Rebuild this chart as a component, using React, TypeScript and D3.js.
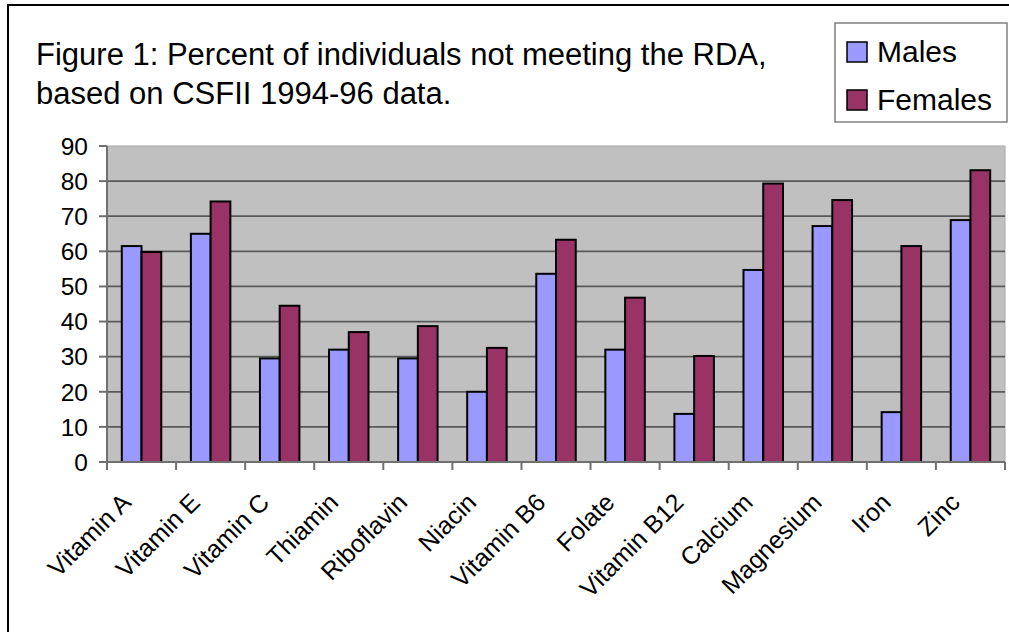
import * as d3 from "d3";

const categories = [
  "Vitamin A", "Vitamin E", "Vitamin C", "Thiamin", "Riboflavin", "Niacin",
  "Vitamin B6", "Folate", "Vitamin B12", "Calcium", "Magnesium", "Iron", "Zinc",
];
const males = [61.5, 65, 29.5, 32, 29.5, 20, 53.6, 32, 13.7, 54.7, 67.2, 14.2, 68.9];
const females = [59.8, 74.2, 44.5, 37, 38.7, 32.5, 63.3, 46.8, 30.2, 79.3, 74.6, 61.5, 83.1];
const seriesNames = ["Males", "Females"];
const seriesColors = ["#9999FF", "#993366"];
const yTicks = [0, 10, 20, 30, 40, 50, 60, 70, 80, 90];
const titleLines = [
  "Figure 1: Percent of individuals not meeting the RDA,",
  "based on CSFII 1994-96 data.",
];

export default function App() {
  const width = 1009;
  const height = 632;
  const plot = { left: 107, right: 1005, top: 146, bottom: 462 };
  const font = "'Liberation Sans', Arial, sans-serif";

  const x = d3.scaleBand().domain(categories).range([plot.left, plot.right]).padding(0);
  const xs = d3
    .scaleBand()
    .domain(seriesNames)
    .range([0, x.bandwidth()])
    .paddingInner(0)
    .paddingOuter(0.75);
  const y = d3.scaleLinear().domain([0, 90]).range([plot.bottom, plot.top]);

  const values = [males, females];

  return (
    <svg
      width={width}
      height={height}
      style={{ position: "absolute", left: 0, top: 0, background: "#fff" }}
      fontFamily={font}
    >
      <rect x={8} y={5} width={1100} height={700} fill="#fff" stroke="#000" strokeWidth={2} />

      {titleLines.map((t, i) => (
        <text key={t} x={36} y={65 + i * 39} fontSize={31} fill="#000">
          {t}
        </text>
      ))}

      {/* legend */}
      <rect x={835} y={23} width={172} height={99} fill="#fff" stroke="#808080" strokeWidth={1.5} />
      {seriesNames.map((s, i) => (
        <g key={s} transform={`translate(847, ${42 + i * 48})`}>
          <rect width={20} height={20} fill={seriesColors[i]} stroke="#000" strokeWidth={1.5} />
          <text x={30} y={19.5} fontSize={30} fill="#000">
            {s}
          </text>
        </g>
      ))}

      {/* plot area */}
      <rect
        x={plot.left}
        y={plot.top}
        width={plot.right - plot.left}
        height={plot.bottom - plot.top}
        fill="#c0c0c0"
        stroke="#a8a8a8"
        strokeWidth={1}
      />
      {yTicks
        .filter((t) => t > 0 && t < 90)
        .map((t) => (
          <line
            key={t}
            x1={plot.left}
            x2={plot.right}
            y1={y(t)}
            y2={y(t)}
            stroke="#5a5a5a"
            strokeWidth={1.8}
          />
        ))}

      {/* bars */}
      {categories.map((c, ci) =>
        seriesNames.map((s, si) => (
          <rect
            key={c + s}
            x={(x(c) ?? 0) + (xs(s) ?? 0)}
            y={y(values[si][ci])}
            width={xs.bandwidth()}
            height={y(0) - y(values[si][ci])}
            fill={seriesColors[si]}
            stroke="#000"
            strokeWidth={2}
          />
        ))
      )}

      {/* y axis */}
      <line x1={plot.left} x2={plot.left} y1={plot.top} y2={plot.bottom} stroke="#707070" strokeWidth={2} />
      {yTicks.map((t) => (
        <g key={t}>
          <line x1={plot.left - 8} x2={plot.left} y1={y(t)} y2={y(t)} stroke="#707070" strokeWidth={2} />
          <text x={88} y={y(t) + 8.8} fontSize={24.5} textAnchor="end" fill="#000">
            {t}
          </text>
        </g>
      ))}

      {/* x axis */}
      <line x1={plot.left} x2={plot.right} y1={plot.bottom} y2={plot.bottom} stroke="#707070" strokeWidth={2} />
      {categories.concat([""]).map((c, i) => {
        const xx = plot.left + i * x.step();
        return (
          <line key={"t" + i} x1={xx} x2={xx} y1={plot.bottom} y2={plot.bottom + 8} stroke="#707070" strokeWidth={2} />
        );
      })}
      {categories.map((c) => {
        const cx = (x(c) ?? 0) + x.bandwidth() / 2;
        return (
          <text
            key={"l" + c}
            transform={`translate(${cx - 9}, ${504}) rotate(-45)`}
            textAnchor="end"
            fontSize={25}
            fill="#000"
          >
            {c}
          </text>
        );
      })}
    </svg>
  );
}
